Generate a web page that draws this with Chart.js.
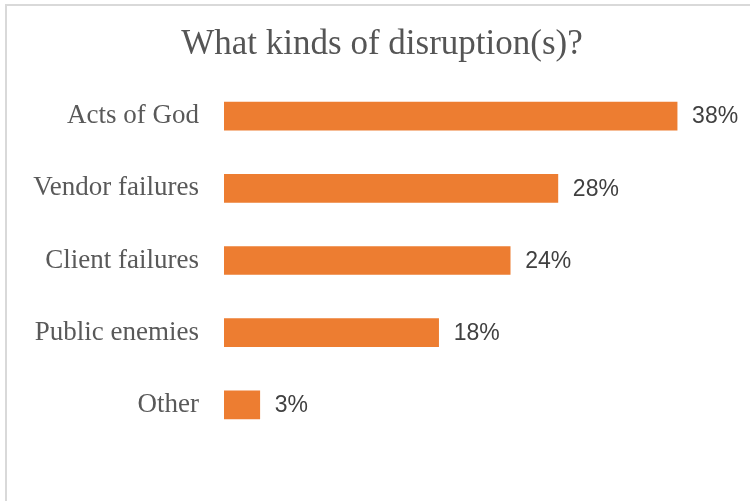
<!DOCTYPE html>
<html>
<head>
<meta charset="utf-8">
<script src="https://cdn.jsdelivr.net/npm/chart.js@4.4.1/dist/chart.umd.min.js"></script>
<style>
  html, body { margin: 0; padding: 0; background: #fff; overflow: hidden; }
  body { width: 750px; height: 501px; position: relative; }
  .frame {
    position: absolute; left: 5px; top: 4px; width: 800px; height: 600px;
    border-top: 2px solid #d9d9d9; border-left: 2px solid #d9d9d9;
  }
  .wrap { position: absolute; left: 7px; top: 6px; width: 750px; height: 501px; }
</style>
</head>
<body>
<div class="frame"></div>
<div class="wrap"><canvas id="barChart" width="750" height="501"></canvas></div>
<script>
const categories = ['Acts of God', 'Vendor failures', 'Client failures', 'Public enemies', 'Other'];
const shares = [38, 28, 24, 18, 3];
const shareLabels = ['38%', '28%', '24%', '18%', '3%'];

// writes the percentage just past the end of each bar
const valueLabels = {
  id: 'valueLabels',
  afterDatasetsDraw(chart) {
    const ctx = chart.ctx;
    const meta = chart.getDatasetMeta(0);
    ctx.save();
    ctx.font = '23px "Liberation Sans", Arial, sans-serif';
    ctx.fillStyle = '#404040';
    ctx.textAlign = 'left';
    ctx.textBaseline = 'middle';
    meta.data.forEach((bar, i) => {
      ctx.fillText(shareLabels[i], bar.x + 15, bar.y + 1);
    });
    ctx.restore();
  }
};

const ctx = document.getElementById('barChart');
new Chart(ctx, {
  type: 'bar',
  data: {
    labels: categories,
    datasets: [{
      data: shares,
      backgroundColor: '#ED7D31',
      barThickness: 28
    }]
  },
  options: {
    indexAxis: 'y',
    responsive: false,
    animation: false,
    layout: { padding: { left: 0, right: 0, top: 0, bottom: 66 } },
    plugins: {
      legend: { display: false },
      tooltip: { enabled: false },
      title: {
        display: true,
        text: 'What kinds of disruption(s)?',
        color: '#555555',
        font: { family: '"Liberation Serif", "Times New Roman", serif', size: 35, weight: 'normal', lineHeight: 1.2 },
        padding: { top: 18, bottom: 14 }
      }
    },
    scales: {
      x: {
        display: false,
        min: 0,
        max: 44.7
      },
      y: {
        afterFit(scale) { scale.width = 217; },
        grid: { display: false, drawTicks: false },
        border: { display: false },
        ticks: {
          padding: 25,
          color: '#595959',
          font: { family: '"Liberation Serif", "Times New Roman", serif', size: 27 }
        }
      }
    }
  },
  plugins: [valueLabels]
});
</script>
</body>
</html>
